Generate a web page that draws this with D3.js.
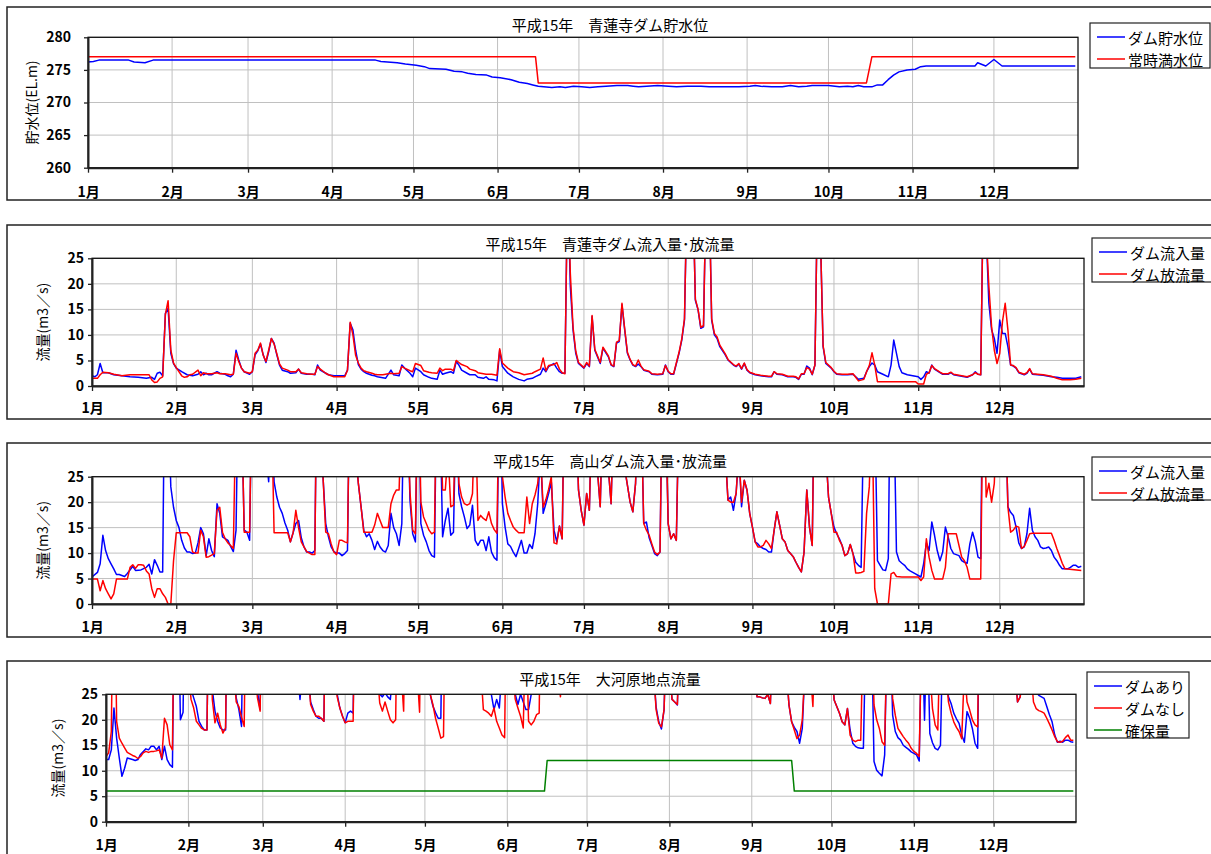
<!DOCTYPE html>
<html lang="ja">
<head>
<meta charset="UTF-8">
<title>平成15年 ダム運用状況</title>
<script src="https://d3js.org/d3.v7.min.js"></script>
<style>
  body { margin: 0; background: #fff; }
  svg { display: block; font-family: "Noto Sans CJK JP", "Noto Sans", sans-serif; }
</style>
</head>
<body>
<script>
// ---- data (day of year 0 = 1/1, value) ----
const months = ["1月","2月","3月","4月","5月","6月","7月","8月","9月","10月","11月","12月"];
const monthStart = [0,31,59,90,120,151,181,212,243,273,304,334];
const levelTicks = [260,265,270,275,280];
const flowTicks = [0,5,10,15,20,25];

// 青蓮寺ダム 貯水位 / 常時満水位
const storageLevel = [[0,276.2],[2,276.3],[4,276.5],[15,276.5],[17,276.2],[21,276.1],[24,276.5],[106,276.5],[108,276.3],[114,276.1],[117,275.9],[121,275.7],[124,275.5],[126,275.2],[132,275.1],[135,274.8],[138,274.7],[140,274.5],[143,274.3],[147,274.2],[149,273.9],[152,273.8],[156,273.5],[159,273.1],[162,272.9],[164,272.7],[166,272.5],[171,272.3],[174,272.4],[176,272.3],[179,272.5],[182,272.4],[185,272.3],[188,272.4],[191,272.5],[195,272.6],[199,272.6],[201,272.5],[203,272.4],[206,272.5],[210,272.6],[214,272.5],[217,272.4],[221,272.5],[226,272.5],[229,272.4],[232,272.4],[236,272.4],[240,272.4],[244,272.5],[246,272.6],[248,272.5],[252,272.4],[256,272.4],[259,272.6],[262,272.4],[265,272.5],[267,272.6],[270,272.6],[273,272.6],[277,272.4],[280,272.5],[282,272.4],[284,272.6],[286,272.4],[289,272.4],[291,272.7],[293,272.7],[295,273.5],[297,274.2],[299,274.7],[302,275.0],[305,275.1],[307,275.5],[309,275.6],[327,275.6],[328,276.1],[331,275.6],[334,276.6],[337,275.6],[364,275.6]];
const normalLevel = [[0,277],[165,277],[166,273],[287,273],[289,277],[364,277]];

// 青蓮寺ダム 流入量 / 放流量
const shorenjiIn = [[0,2],[1,1.8],[2,2.2],[3,4.4],[4,2.6],[6,2.6],[8,2.2],[11,2],[14,1.8],[17,1.7],[20,1.5],[22,1.7],[23,1.3],[24,2.5],[25,2.7],[26,2],[27,14.2],[28,15.2],[29,6.4],[30,4.4],[31,3.5],[33,2.8],[35,2.2],[37,2],[39,2.3],[40,2.8],[41,2.2],[42,2.5],[43,2.2],[44,2.2],[46,2.8],[47,2.5],[49,2.3],[50,2],[51,1.8],[52,2.3],[53,7],[54,5.1],[55,3.5],[56,2.8],[58,2.3],[59,2.8],[60,6.1],[61,6.9],[62,8.2],[63,6.1],[64,4.6],[65,6.7],[66,9.3],[67,8.4],[68,6.1],[69,4.1],[70,3.1],[72,2.8],[73,2.5],[75,2.6],[76,3.3],[77,2.5],[79,2.3],[81,2.3],[82,2.2],[83,4.1],[84,3.1],[86,2.5],[87,2.2],[89,2],[91,2],[93,2],[94,3.1],[95,12.3],[96,11],[97,7],[98,4.2],[99,3.3],[100,2.8],[101,2.5],[103,2.1],[104,2],[105,1.8],[107,1.6],[108,1.5],[110,3.1],[111,2.2],[113,2],[114,4.1],[115,3.5],[117,2.5],[118,1.8],[119,3.5],[121,2.8],[122,2.2],[124,1.7],[125,1.5],[127,1.3],[128,3.1],[129,2.3],[130,2.5],[132,2.8],[133,2.5],[134,4.8],[135,4.1],[136,3.1],[138,2.5],[139,2.2],[141,2.2],[142,1.7],[144,1.5],[145,1.8],[146,1.3],[148,1.2],[149,1],[150,7],[151,3.8],[153,2.5],[155,1.8],[157,1.3],[159,1],[160,1.3],[162,1.5],[163,1.8],[165,2.3],[166,3.5],[167,2.8],[168,3.8],[170,4.4],[171,3.5],[172,2.8],[173,2.5],[174,2.5],[175,40],[176,19.5],[177,11],[178,6.4],[179,4.4],[181,3.5],[182,4.4],[183,3.8],[184,13.6],[185,7],[187,4.4],[188,7.4],[190,5.7],[191,4.1],[192,3.8],[193,8.4],[194,8.7],[195,15.9],[196,11],[197,6.4],[198,5.1],[199,4.1],[200,3.8],[201,4.3],[202,3.8],[203,3.1],[205,2.8],[206,2.3],[208,2.2],[210,2.3],[211,4.1],[212,2.8],[213,2.3],[214,2.3],[216,6.4],[217,9],[218,12.9],[219,40],[220,60],[221,40],[222,16.8],[223,14.9],[224,11.3],[225,11.6],[226,40],[227,40],[228,12.9],[229,10],[230,9.3],[231,7.7],[233,6.1],[234,5.1],[236,4.1],[237,3.8],[238,4.3],[239,3.3],[240,4.4],[241,3.1],[242,2.6],[244,2.2],[246,2],[249,1.8],[250,1.8],[251,2.8],[252,2.3],[254,2.2],[255,2],[256,1.8],[258,1.8],[259,1.7],[260,1.3],[261,2.3],[262,2.3],[263,3.9],[264,3.5],[265,2.2],[266,4.1],[267,40],[268,30],[269,7.7],[270,4.4],[272,3.5],[273,2.8],[274,2.3],[276,2.2],[278,2.2],[280,2.3],[281,1.8],[282,1.3],[284,1.5],[285,2.8],[286,3.8],[287,4.5],[288,4.1],[289,2.8],[291,2.3],[293,1.8],[294,4.1],[295,9],[296,6.4],[297,3.8],[298,2.6],[300,2.2],[302,2],[304,1.8],[305,1.3],[306,1.8],[307,2.8],[308,2.5],[309,4.1],[310,3.3],[312,2.6],[313,2.3],[315,2.3],[316,2.6],[317,2.2],[319,2],[321,1.8],[322,1.7],[324,2.2],[325,2.8],[326,2.3],[327,2.2],[328,40],[329,30],[330,16.2],[331,11],[332,9.3],[333,6.4],[334,12.9],[335,10.3],[336,10.3],[337,7.7],[338,4.1],[339,3.9],[340,3.5],[341,2.6],[343,2.2],[344,2.5],[345,3.3],[346,2.3],[348,2.2],[350,2.1],[353,1.8],[355,1.7],[357,1.5],[362,1.5],[364,1.8]];
const shorenjiOut = [[0,1.5],[2,1.5],[3,2.2],[4,2.7],[6,2.6],[8,2.3],[11,2],[14,2.2],[17,2.2],[21,2.2],[22,1.2],[23,0.7],[24,0.8],[25,1.5],[26,1.8],[27,14],[28,16.7],[29,7],[30,4.5],[31,3.6],[33,2.0],[34,1.7],[35,1.8],[36,2.2],[37,2.3],[39,3.1],[40,2],[41,2.6],[42,2.4],[44,2.4],[46,2.6],[47,2.4],[49,2.4],[50,2.3],[51,2.2],[52,2.3],[53,6.4],[54,4.8],[55,3.5],[56,2.8],[58,2.5],[59,2.8],[60,6.4],[61,7],[62,8.4],[63,6],[64,4.8],[65,7],[66,9.3],[67,8.2],[68,6.3],[69,4.3],[70,3.5],[72,3.1],[73,2.8],[75,2.8],[76,3.3],[77,2.6],[79,2.4],[81,2.3],[82,2.3],[83,3.8],[84,3.3],[86,2.5],[87,2.2],[89,1.8],[91,1.8],[93,1.8],[94,3.1],[95,12.5],[96,10],[97,6],[98,4.5],[99,3.5],[100,3],[101,2.8],[103,2.5],[104,2.3],[105,2.2],[107,2.2],[108,2.3],[110,2.5],[111,2.4],[113,2.5],[114,3.8],[115,3.5],[117,3],[118,2.8],[119,4.4],[120,4.2],[121,4],[122,3],[124,2.7],[125,2.6],[127,2.5],[128,3.5],[129,3],[130,3.3],[132,3.3],[133,3],[134,5],[135,4.6],[136,4.2],[138,3.8],[139,3.3],[141,3],[142,2.6],[144,2.4],[145,2.3],[147,2.3],[149,2.1],[150,7.3],[151,4.5],[153,3.5],[155,2.8],[157,2.6],[159,2.2],[160,2.3],[162,2.5],[163,2.8],[165,3.3],[166,5.5],[167,3],[168,4],[170,4.2],[171,4.6],[172,3.3],[173,2.6],[174,2.4],[175,40],[176,22],[177,11.5],[178,6.8],[179,4.6],[181,3.6],[182,4.6],[183,3.9],[184,13.8],[185,7.2],[187,4.6],[188,7.6],[190,5.9],[191,4.2],[192,3.9],[193,8.6],[194,8.9],[195,16.2],[196,11.2],[197,6.6],[198,5.2],[199,4.2],[200,3.9],[201,5.1],[202,3.9],[203,3.2],[205,2.9],[206,2.4],[208,2.3],[210,2.4],[211,4],[212,2.9],[213,2.4],[214,2.4],[216,6.6],[217,9.2],[218,13.2],[219,40],[220,60],[221,40],[222,17],[223,15],[224,11.5],[225,11.8],[226,40],[227,40],[228,13.2],[229,10.3],[230,9.6],[231,8],[233,6.3],[234,5.2],[236,4.2],[237,3.9],[238,4.4],[239,3.4],[240,4.5],[241,3.2],[242,2.7],[244,2.3],[246,2.1],[249,1.9],[250,1.9],[251,2.8],[252,2.4],[254,2.3],[255,2.1],[256,1.9],[258,1.9],[259,1.8],[260,1.4],[261,2.4],[262,2.4],[263,3.6],[264,3.3],[265,2.3],[266,4.1],[267,40],[268,30],[269,7.9],[270,4.6],[272,3.6],[273,2.9],[274,2.4],[276,2.3],[278,2.3],[280,2.4],[281,1.7],[282,1.0],[284,1.3],[285,2.8],[286,4],[287,6.5],[288,4.1],[289,0.85],[303,0.85],[304,0.4],[306,0.4],[307,2.3],[308,2.6],[309,4],[310,3.4],[312,2.7],[313,2.4],[315,2.4],[316,2.7],[317,2.3],[319,2.1],[321,1.9],[322,1.8],[324,2.2],[325,2.6],[326,2.3],[327,2.2],[328,40],[329,30],[330,19.5],[331,11.6],[332,7],[333,4.4],[334,6.4],[335,12.6],[336,16.2],[337,11],[338,4.1],[339,4],[340,3.6],[341,2.7],[343,2.3],[344,2.6],[345,3.4],[346,2.4],[348,2.3],[350,2.2],[353,1.9],[355,1.5],[357,1.2],[360,1.2],[362,1.3],[364,1.5]];

// 高山ダム 流入量 / 放流量
const takayamaIn = [[0,5.3],[2,6.2],[3,7.9],[4,13.5],[5,10.5],[6,8.9],[7,7.9],[8,6.9],[9,5.8],[10,5.8],[12,5.4],[13,6.0],[15,7.4],[16,6.6],[18,6.7],[20,7.2],[21,7.8],[22,5.9],[23,8.7],[24,7.6],[25,6.3],[26,6.3],[27,60],[28,40],[29,23],[30,19],[31,16.4],[32,15],[33,12.5],[34,11],[35,10.2],[36,10.2],[37,9.9],[38,10],[39,12],[40,15],[41,13.8],[42,9.5],[43,12.8],[44,10.5],[45,9.3],[46,19.7],[47,17.8],[48,13.2],[50,12.5],[51,11.3],[52,10.3],[53,14.5],[54,50],[55,40],[56,14.5],[57,14.1],[58,12.5],[59,50],[62,40],[64,30],[65,24],[66,40],[67,24],[68,21],[69,19],[70,17.8],[71,15.9],[72,14.5],[73,12.2],[74,14],[75,15.8],[76,16.4],[77,13],[78,11.2],[79,10.2],[80,10.2],[81,10],[82,10.5],[83,60],[84,50],[85,25],[86,15.8],[87,13.2],[88,11.2],[89,10.3],[90,10],[91,10],[92,9.5],[93,9.9],[94,10.5],[95,50],[97,30],[98,23.7],[99,19.1],[100,14.5],[101,13.2],[102,13.8],[103,12.5],[104,10.7],[105,12.3],[106,11.2],[107,10.5],[108,10.2],[109,11.5],[110,17.8],[111,15],[112,13.8],[113,11.5],[114,15.8],[115,50],[116,40],[117,20.4],[118,13.8],[119,12.2],[120,50],[121,15.8],[122,13.5],[123,12.2],[124,10.5],[125,9.5],[126,9.2],[127,50],[128,40],[129,13.2],[130,16.4],[131,18.8],[132,13.5],[133,14.1],[134,40],[135,21.7],[136,19.1],[137,17.1],[138,14.8],[139,15.5],[140,19.4],[141,12.5],[142,11.5],[143,12.5],[144,12.5],[145,10.5],[146,13.2],[147,10.2],[148,9.1],[149,8.6],[150,50],[151,19.7],[152,15.1],[153,11.8],[154,11.3],[155,10.2],[156,9.3],[157,10.9],[158,12.5],[159,10],[160,10],[161,11.7],[162,10.9],[163,13.8],[164,19.7],[165,30],[166,17.8],[167,19.7],[168,21.7],[169,24],[170,14.5],[171,12.2],[172,15.3],[173,12.8],[174,50],[178,40],[179,22.4],[180,18.4],[181,15.5],[182,21.7],[183,18.4],[184,40],[187,19.1],[188,40],[191,19.7],[192,40],[198,20],[199,18.1],[200,23.7],[201,40],[202,40],[203,15.8],[204,16.1],[205,13],[206,11.5],[207,9.9],[208,9.5],[209,10.2],[210,50],[211,40],[212,15.8],[213,12.8],[214,13.8],[215,12.5],[216,40],[233,30],[234,20.4],[235,21],[236,18.4],[237,21.7],[238,30],[239,19.1],[240,24.3],[241,22.4],[242,17.8],[243,15.1],[244,12.2],[245,11.8],[246,11.2],[247,10.9],[248,10.7],[249,10.2],[250,10.2],[251,14.5],[252,18.1],[253,15.5],[254,12.8],[255,12.2],[256,10.5],[257,9.9],[258,9.3],[259,8.2],[260,7.2],[261,6.3],[262,10.2],[263,22.4],[264,15.1],[265,11.5],[266,50],[270,30],[271,21],[272,17.8],[273,15.1],[274,13.8],[275,12.8],[276,11.5],[277,9.5],[278,9.9],[279,11.7],[280,9.9],[281,8.2],[282,7.6],[283,7.2],[284,40],[288,40],[289,8.5],[290,7.6],[291,6.7],[292,6.6],[293,8.9],[294,60],[295,40],[296,10.2],[297,8.5],[298,8],[299,7.6],[300,6.9],[301,6.5],[302,6.2],[303,5.9],[304,5.6],[305,5.3],[306,7.9],[307,12],[308,10.5],[309,16.1],[310,13.5],[311,10.5],[312,8.5],[313,10.2],[314,15.1],[315,13.2],[316,10.9],[317,9.9],[319,9.5],[320,8.5],[321,8.2],[322,8],[323,11.8],[324,14.1],[325,12.2],[326,9.2],[327,8.9],[328,60],[336,40],[337,19.1],[338,18],[339,17.4],[340,15.1],[341,12],[342,10.9],[343,11.2],[344,13.8],[345,18.8],[346,14.5],[347,13.2],[348,12.5],[349,11.2],[350,10.9],[351,11],[352,11.2],[353,10.5],[354,9.2],[355,8.5],[356,7.6],[357,6.9],[358,6.9],[359,6.9],[360,7.2],[361,7.6],[362,7.6],[363,7.2],[364,7.4]];
const takayamaOut = [[0,4.9],[2,4.9],[3,2.6],[4,4.6],[5,3],[6,2],[7,1],[8,2],[9,4.9],[13,4.9],[14,7.2],[15,7.7],[16,7],[17,7.7],[18,7.7],[19,7.6],[20,6.5],[21,5.9],[22,3],[23,1.3],[24,3],[25,3],[26,2],[27,1.3],[28,0],[29,0],[30,8.5],[31,14],[35,14],[36,13.2],[37,10.2],[38,10],[39,10],[40,14.5],[41,13.2],[42,9.2],[43,9.3],[44,9.6],[45,9.9],[46,18.4],[47,19],[48,14.1],[49,12.8],[50,12],[51,11.5],[52,10.9],[53,40],[55,40],[56,14.1],[58,14.1],[59,50],[66,40],[67,14],[72,14],[73,12.2],[74,14],[75,18.4],[76,15],[77,12.2],[78,11.2],[79,10.3],[80,10],[81,9.7],[82,9.7],[83,60],[84,50],[85,25],[86,14.1],[87,13.8],[88,11.8],[89,10.2],[90,9.7],[91,12.5],[92,12.5],[93,12.2],[94,12],[95,50],[97,30],[98,23.7],[99,19.1],[100,14.1],[103,14.1],[104,15.5],[105,17.8],[106,16.4],[107,15],[109,15],[110,19.7],[111,21.4],[112,22.4],[113,22.4],[114,40],[116,40],[117,22],[118,14.5],[119,13.8],[120,50],[121,20],[122,17.1],[123,15.8],[124,14.5],[125,13.8],[126,14.1],[127,50],[128,40],[129,22.4],[130,22.4],[131,30],[132,19.1],[133,19.4],[134,40],[135,23.7],[136,21],[137,19.7],[138,19.4],[139,19.7],[140,21.7],[141,40],[142,16.4],[143,17.4],[144,16.8],[145,16.4],[146,18.1],[147,15.8],[148,14.6],[149,13.9],[150,50],[151,25],[152,21],[153,17.8],[154,16.4],[155,15.1],[156,14.5],[157,14],[159,14],[160,21],[161,15.8],[162,19.7],[163,21.4],[164,23.7],[165,30],[166,19],[167,20.5],[168,22.5],[169,25],[170,12],[171,11.8],[172,15.3],[173,12.8],[174,50],[178,40],[179,22.4],[180,18.4],[181,15.5],[182,21.7],[183,18.4],[184,40],[187,19.1],[188,40],[191,19.7],[192,40],[198,20],[199,18.1],[200,23.7],[201,40],[202,40],[203,15.8],[204,14.5],[205,13.5],[206,11.8],[207,10.2],[208,9.7],[209,10.2],[210,50],[211,40],[212,15.8],[213,12.8],[214,13.8],[215,12.5],[216,40],[233,30],[234,20.4],[235,20],[236,20],[237,21.7],[238,30],[239,20],[240,24.3],[241,22.4],[242,17.8],[243,15.1],[244,12.2],[245,11.2],[246,11.2],[247,11.5],[248,12.5],[249,11.8],[250,10.9],[251,14.5],[252,18.1],[253,15.5],[254,12.8],[255,12.2],[256,10.5],[257,9.9],[258,9.3],[259,8.2],[260,7.2],[261,6.3],[262,10.2],[263,22.4],[264,15.1],[265,11.5],[266,50],[270,30],[271,21],[272,17.8],[273,14.1],[274,14.1],[275,12.5],[276,11.5],[277,9.5],[278,9.9],[279,11.7],[280,9.9],[281,6.1],[282,6.1],[283,6.2],[284,6.4],[285,17.8],[286,23],[287,40],[288,3],[289,0],[293,0],[294,5.9],[295,6.2],[296,5.4],[298,5.3],[304,5.3],[305,4.6],[306,5.3],[307,12.8],[308,9.2],[309,6.6],[310,4.9],[313,4.9],[314,7.2],[315,13.8],[318,13.8],[320,9.2],[321,8.5],[322,7.2],[323,4.9],[327,4.9],[328,50],[329,21],[330,23.7],[331,20],[332,23.7],[333,40],[336,40],[337,19.1],[338,14.1],[339,14.5],[340,15.3],[341,15.1],[342,10.9],[343,11.3],[344,12.5],[345,13.8],[346,13.9],[353,13.9],[354,12.5],[355,10.9],[356,9.5],[357,8],[358,6.9],[364,6.6]];

// 大河原地点流量 ダムあり / ダムなし / 確保量
const okawaraWithDam = [[0,12.2],[1,12.2],[2,14.1],[3,22.3],[4,16.4],[5,12.5],[6,8.9],[7,10.5],[8,12.5],[10,12.2],[11,12],[12,12.2],[13,13.2],[15,14.3],[16,14.1],[17,14.8],[18,14.8],[19,14.1],[20,14.8],[21,12.2],[22,14.8],[23,12.2],[24,11.2],[25,10.7],[26,60],[27,50],[28,20],[29,21.5],[30,60],[31,40],[32,26],[33,24.3],[34,22.6],[35,19.7],[36,18.7],[37,18],[38,18],[39,60],[40,26],[41,21.7],[42,19.7],[43,18.4],[44,18],[45,18],[46,60],[48,30],[49,24.3],[50,22],[51,18.7],[52,60],[56,30],[57,25.5],[58,22],[59,60],[72,30],[73,24],[74,30],[76,30],[77,23.5],[78,22],[79,20.7],[80,20.3],[81,20.3],[82,19.7],[83,60],[86,30],[87,25],[88,22.3],[89,20.7],[90,19.4],[91,21.3],[92,21.7],[93,21.3],[94,60],[102,30],[103,25],[104,24.5],[105,25.3],[106,24.5],[107,24],[108,30],[110,60],[117,30],[118,26],[119,30],[121,30],[122,25],[123,22.7],[124,21.4],[125,20.3],[126,20.3],[127,60],[141,30],[142,26],[143,26],[144,25.5],[145,25],[146,22],[147,24],[148,22.3],[149,30],[153,30],[154,25],[155,23],[156,25],[158,22],[159,22],[160,25],[161,30],[170,26],[172,30],[200,40],[206,30],[207,22.5],[208,19.6],[209,18.2],[210,22],[211,40],[212,30],[213,24],[214,23.5],[215,22.9],[216,40],[244,30],[245,24.5],[246,24.5],[247,24.3],[248,24.2],[249,25],[250,23.2],[251,40],[256,30],[257,22.9],[258,19.6],[259,18.5],[260,17.7],[261,15.4],[262,18.3],[263,30],[273,30],[274,23.9],[276,21.3],[277,19.6],[278,19],[279,22.2],[280,18],[281,15.4],[282,14.8],[283,14.5],[284,14.4],[285,14.4],[286,40],[288,40],[289,11.8],[290,10.1],[291,9.5],[292,9],[293,13.1],[294,40],[295,40],[296,20.9],[297,17.7],[298,16.5],[299,16],[300,15],[301,14.6],[302,14.2],[303,13.7],[304,13.4],[305,13.1],[306,11.9],[307,40],[308,19.9],[309,40],[310,17.3],[311,15.5],[312,14.4],[313,14.1],[314,15],[315,40],[316,30],[317,24.5],[318,23.2],[319,21.3],[320,20.2],[321,19.3],[322,17],[323,15.6],[324,21.6],[325,20.3],[326,18.3],[327,15.4],[328,14.4],[329,60],[342,30],[343,23.5],[344,24.5],[345,30],[349,30],[350,25.5],[351,24.8],[352,24.5],[353,24.2],[354,22.6],[355,21],[356,19.6],[357,17],[358,15.6],[359,15.8],[360,15.6],[361,16],[362,16],[363,15.7],[364,15.6]];
const okawaraNoDam = [[0,12.8],[1,13.5],[2,17.7],[3,60],[4,19.7],[5,16.4],[6,15.4],[7,14.5],[8,13.6],[9,13.3],[10,13],[11,12.8],[12,12.4],[13,12.8],[14,13.5],[15,13.8],[16,13.6],[17,13.8],[18,13.8],[19,13.9],[20,14.1],[21,12.5],[22,20.3],[23,19],[24,15.1],[25,14.1],[26,60],[31,30],[32,24],[33,22.3],[34,19.7],[35,19],[36,18.3],[37,18],[38,18],[39,60],[40,24],[41,19.4],[42,21.3],[43,19],[44,17.4],[45,18.4],[46,60],[48,30],[49,23.5],[50,22.6],[51,20.5],[52,18.7],[53,60],[56,30],[57,24.3],[58,21.7],[59,60],[76,30],[77,23],[78,21.7],[79,20.7],[80,20.7],[81,20.3],[82,19.7],[83,60],[86,30],[87,24.5],[88,22.3],[89,20.7],[90,19.4],[91,19.7],[92,19.7],[93,19.7],[94,60],[102,30],[103,23.3],[104,21.7],[105,23.5],[106,21.7],[107,20],[108,19.4],[109,20],[110,60],[111,30],[112,21.7],[113,60],[117,30],[118,21.5],[119,60],[121,30],[122,25],[123,23],[124,20.3],[125,18.4],[126,16.4],[127,16.7],[128,60],[141,30],[142,22],[143,21.7],[144,21.3],[145,20.7],[146,22.3],[147,19.7],[148,18.4],[149,17],[150,16.5],[151,60],[153,30],[154,24],[155,22.3],[156,20.7],[157,18.4],[158,40],[159,19.7],[160,19],[161,19.7],[162,21],[163,21.3],[164,60],[171,24.5],[172,40],[200,40],[206,30],[207,22],[208,19.3],[209,18.6],[210,22],[211,40],[212,30],[213,24],[214,23.5],[215,23],[216,40],[244,30],[245,24.5],[246,24.5],[247,24.3],[248,24.2],[249,25],[250,23.2],[251,40],[256,30],[257,22.9],[258,19.6],[259,18],[260,16.3],[261,17],[262,20],[263,30],[265,30],[266,22.6],[267,40],[273,30],[274,23.9],[276,21.3],[277,19.6],[278,19],[279,22.2],[280,17],[281,16],[282,15.7],[283,16],[284,16],[285,40],[288,40],[289,22.9],[290,20],[291,18.3],[292,15.7],[293,15],[294,40],[295,40],[296,24.2],[297,20.9],[298,18.3],[299,17.5],[300,16.7],[301,16],[302,15.4],[303,14.4],[304,13.8],[305,13.4],[306,12.8],[307,40],[310,30],[311,22.2],[312,19],[313,18],[314,40],[316,30],[317,23.5],[318,21.3],[319,19.6],[320,18.5],[321,17.7],[322,16.3],[323,30],[324,23.5],[325,21.9],[326,20],[327,19],[328,18.6],[329,60],[342,30],[343,23.5],[344,24.5],[345,30],[348,30],[349,23.5],[350,22.2],[351,21.8],[352,21.6],[353,21.3],[354,20.3],[355,19.2],[356,18],[357,16.7],[358,15.7],[359,15.6],[360,15.8],[361,16.5],[362,17],[363,16],[364,16]];
const securedFlow = [[0,6],[165,6],[166,12],[258,12],[259,6],[364,6]];

// ---- drawing ----
const svg = d3.select("body").append("svg")
    .attr("width", 1211)
    .attr("height", 854);

const panels = [
  { id: 1, frame: [7, 7, 1208, 193], left: 88, right: 1078, top: 37.3, bottom: 167.7,
    yDomain: [260, 280], yTicks: levelTicks, yPad: 13, yTitle: "貯水位(EL.m)", yTitleX: 31,
    title: "平成15年　青蓮寺ダム貯水位", titleY: 24, xPad: 14.4,
    legend: [1090, 23, 120, 45],
    series: [{ name: "ダム貯水位", color: "#0000ff", data: storageLevel },
             { name: "常時満水位", color: "#ff0000", data: normalLevel }] },
  { id: 2, frame: [7, 225, 1208, 194], left: 92, right: 1084, top: 258.3, bottom: 386,
    yDomain: [0, 25], yTicks: flowTicks, yPad: 4, yTitle: "流量(m3／s)", yTitleX: 42,
    title: "平成15年　青蓮寺ダム流入量･放流量", titleY: 243, xPad: 12.4,
    legend: [1092, 238, 120, 44],
    series: [{ name: "ダム流入量", color: "#0000ff", data: shorenjiIn },
             { name: "ダム放流量", color: "#ff0000", data: shorenjiOut }] },
  { id: 3, frame: [7, 443, 1208, 194], left: 92, right: 1084, top: 476.7, bottom: 604,
    yDomain: [0, 25], yTicks: flowTicks, yPad: 4, yTitle: "流量(m3／s)", yTitleX: 42,
    title: "平成15年　高山ダム流入量･放流量", titleY: 460, xPad: 13.1,
    legend: [1092, 457, 120, 43],
    series: [{ name: "ダム流入量", color: "#0000ff", data: takayamaIn },
             { name: "ダム放流量", color: "#ff0000", data: takayamaOut }] },
  { id: 4, frame: [7, 661, 1208, 200], left: 106, right: 1076, top: 694.3, bottom: 821.7,
    yDomain: [0, 25], yTicks: flowTicks, yPad: 4, yTitle: "流量(m3／s)", yTitleX: 57,
    title: "平成15年　大河原地点流量", titleY: 678, xPad: 13.7,
    legend: [1087, 672, 102, 66],
    series: [{ name: "ダムあり", color: "#0000ff", data: okawaraWithDam },
             { name: "ダムなし", color: "#ff0000", data: okawaraNoDam },
             { name: "確保量", color: "#008000", data: securedFlow }] }
];

panels.forEach(p => {
  const g = svg.append("g");

  g.append("rect")
    .attr("x", p.frame[0]).attr("y", p.frame[1])
    .attr("width", p.frame[2]).attr("height", p.frame[3])
    .attr("fill", "#fff").attr("stroke", "#222").attr("stroke-width", 1.5);

  const x = d3.scaleLinear().domain([0, 365]).range([p.left, p.right]);
  const y = d3.scaleLinear().domain(p.yDomain).range([p.bottom, p.top]);

  // gridlines
  g.selectAll(".hgrid").data(p.yTicks).enter().append("line")
    .attr("x1", p.left).attr("x2", p.right)
    .attr("y1", d => y(d)).attr("y2", d => y(d))
    .attr("stroke", "#c0c0c0").attr("stroke-width", 1);
  g.selectAll(".vgrid").data(monthStart.slice(1)).enter().append("line")
    .attr("x1", d => x(d)).attr("x2", d => x(d))
    .attr("y1", p.top).attr("y2", p.bottom)
    .attr("stroke", "#c0c0c0").attr("stroke-width", 1);

  // series
  svg.append("clipPath").attr("id", "clip" + p.id)
    .append("rect")
    .attr("x", p.left).attr("y", p.top)
    .attr("width", p.right - p.left).attr("height", p.bottom - p.top);

  const line = d3.line().x(d => x(d[0])).y(d => y(d[1]));
  p.series.forEach(s => {
    g.append("path")
      .attr("clip-path", `url(#clip${p.id})`)
      .attr("d", line(s.data))
      .attr("fill", "none")
      .attr("stroke", s.color)
      .attr("stroke-width", 1.5)
      .attr("stroke-linejoin", "round");
  });

  // plot border
  g.append("rect")
    .attr("x", p.left).attr("y", p.top)
    .attr("width", p.right - p.left).attr("height", p.bottom - p.top)
    .attr("fill", "none").attr("stroke", "#111").attr("stroke-width", 1.3);

  // axes
  const yAxis = d3.axisLeft(y).tickValues(p.yTicks).tickSize(4).tickSizeOuter(0).tickPadding(p.yPad);
  const ya = g.append("g").attr("transform", `translate(${p.left},0)`).call(yAxis);
  const xAxis = d3.axisBottom(x).tickValues(monthStart)
    .tickFormat((d, i) => months[i]).tickSize(5).tickSizeOuter(0).tickPadding(p.xPad);
  const xa = g.append("g").attr("transform", `translate(0,${p.bottom})`).call(xAxis);

  [ya, xa].forEach(a => {
    a.attr("font-family", null).attr("font-size", null);
    a.select(".domain").attr("stroke", "#222").attr("stroke-width", 2);
    a.selectAll(".tick line").attr("stroke", "#222").attr("stroke-width", 1.3);
    a.selectAll(".tick text")
      .style("font-size", "14px").style("font-weight", "bold").attr("fill", "#000");
  });

  // y title
  g.append("text")
    .attr("transform", `translate(${p.yTitleX},${(p.top + p.bottom) / 2}) rotate(-90)`)
    .attr("text-anchor", "middle").attr("dominant-baseline", "central")
    .style("font-size", "14px")
    .text(p.yTitle);

  // title
  g.append("text")
    .attr("x", 610).attr("y", p.titleY)
    .attr("text-anchor", "middle").attr("dominant-baseline", "central")
    .style("font-size", "15px")
    .text(p.title);

  // legend
  const [lx, ly, lw, lh] = p.legend;
  const lg = g.append("g");
  lg.append("rect").attr("x", lx).attr("y", ly).attr("width", lw).attr("height", lh)
    .attr("fill", "#fff").attr("stroke", "#222").attr("stroke-width", 1.2);
  p.series.forEach((s, i) => {
    const yy = ly + 14 + i * 22;
    lg.append("line").attr("x1", lx + 7).attr("x2", lx + 35)
      .attr("y1", yy).attr("y2", yy)
      .attr("stroke", s.color).attr("stroke-width", 1.5);
    lg.append("text").attr("x", lx + 38).attr("y", yy)
      .attr("dominant-baseline", "central")
      .style("font-size", "15px")
      .text(s.name);
  });
});
</script>
</body>
</html>
